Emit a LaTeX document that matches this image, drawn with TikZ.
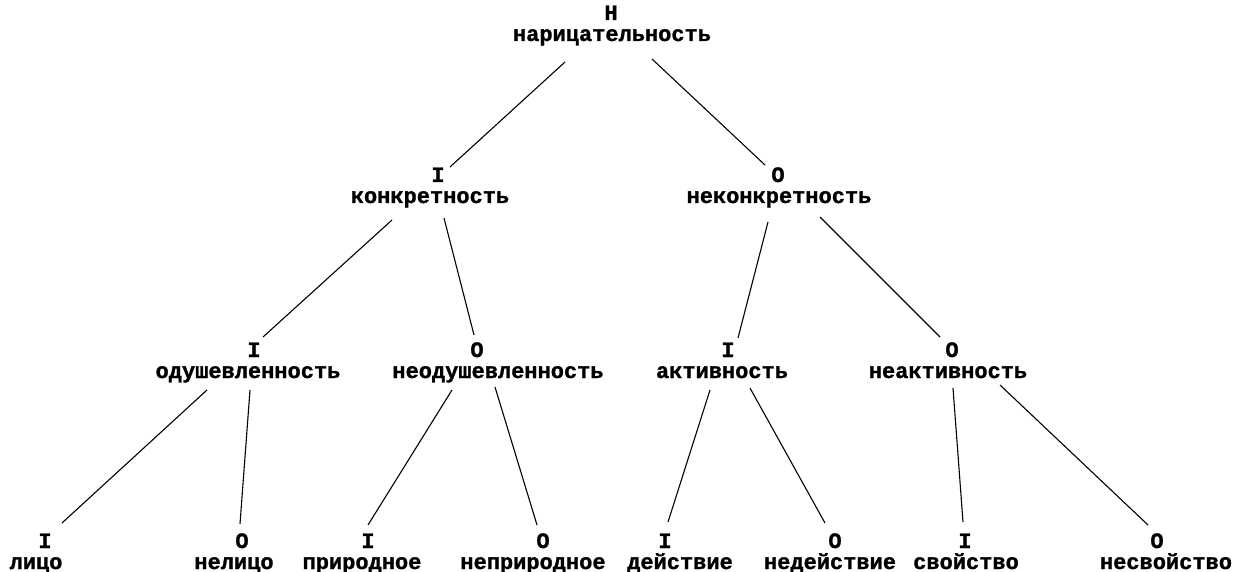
\documentclass[tikz,border=0pt]{standalone}
\usepackage{fontspec}
\newfontfamily\tw{Liberation Mono}[BoldFeatures={FakeBold=1.2}]
\usetikzlibrary{calc}
\tikzset{
  lbl/.style={anchor=base, inner sep=0pt, font=\tw\bfseries\fontsize{22}{24}\selectfont},
  edge/.style={draw=black, line width=1.1pt}
}
\begin{document}
\begin{tikzpicture}[x=1pt,y=-1pt]
\useasboundingbox (0,0) rectangle (1239,572);
% level 1
\node[lbl] (m0) at (611,20) {Н};
\node[lbl] (t0) at (612,41) {нарицательность};
% level 2
\node[lbl] (m1) at (438,182) {I};
\node[lbl] (t1) at (430,203) {конкретность};
\node[lbl] (m2) at (778,182) {O};
\node[lbl] (t2) at (779,203) {неконкретность};
% level 3
\node[lbl] (m3) at (254,357) {I};
\node[lbl] (t3) at (248,378) {одушевленность};
\node[lbl] (m4) at (477,357) {O};
\node[lbl] (t4) at (498,378) {неодушевленность};
\node[lbl] (m5) at (728,357) {I};
\node[lbl] (t5) at (722,378) {активность};
\node[lbl] (m6) at (952,357) {O};
\node[lbl] (t6) at (948,378) {неактивность};
% level 4
\node[lbl] (m7) at (45,548) {I};
\node[lbl] (t7) at (36,569) {лицо};
\node[lbl] (m8) at (242,548) {O};
\node[lbl] (t8) at (234,569) {нелицо};
\node[lbl] (m9) at (368,548) {I};
\node[lbl] (t9) at (362,569) {природное};
\node[lbl] (m10) at (543,548) {O};
\node[lbl] (t10) at (533,569) {неприродное};
\node[lbl] (m11) at (665,548) {I};
\node[lbl] (t11) at (680,569) {действие};
\node[lbl] (m12) at (835,548) {O};
\node[lbl] (t12) at (830,569) {недействие};
\node[lbl] (m13) at (965,548) {I};
\node[lbl] (t13) at (966,569) {свойство};
\node[lbl] (m14) at (1157,548) {O};
\node[lbl] (t14) at (1166,569) {несвойство};
% connectors
\draw[edge] ($(t0.base)+(-47,21)$) -- ($(m1.base)+(12,-15)$);
\draw[edge] ($(t0.base)+(40,18)$) -- ($(m2.base)+(-13,-17)$);
\draw[edge] ($(t1.base)+(-38,17)$) -- ($(m3.base)+(9,-20)$);
\draw[edge] ($(t1.base)+(14,15)$) -- ($(m4.base)+(-3,-22)$);
\draw[edge] ($(t2.base)+(-11,19)$) -- ($(m5.base)+(10,-19)$);
\draw[edge] ($(t2.base)+(41,14)$) -- ($(m6.base)+(-12,-20)$);
\draw[edge] ($(t3.base)+(-41,12)$) -- ($(m7.base)+(17,-25)$);
\draw[edge] ($(t3.base)+(2,12)$) -- ($(m8.base)+(-2,-24)$);
\draw[edge] ($(t4.base)+(-46,12)$) -- ($(m9.base)+(0,-23)$);
\draw[edge] ($(t4.base)+(-3,9)$) -- ($(m10.base)+(-6,-23)$);
\draw[edge] ($(t5.base)+(-12,12)$) -- ($(m11.base)+(3,-26)$);
\draw[edge] ($(t5.base)+(28,10)$) -- ($(m12.base)+(-10,-25)$);
\draw[edge] ($(t6.base)+(5,10)$) -- ($(m13.base)+(-2,-26)$);
\draw[edge] ($(t6.base)+(52,7)$) -- ($(m14.base)+(-9,-23)$);
\end{tikzpicture}
\end{document}
